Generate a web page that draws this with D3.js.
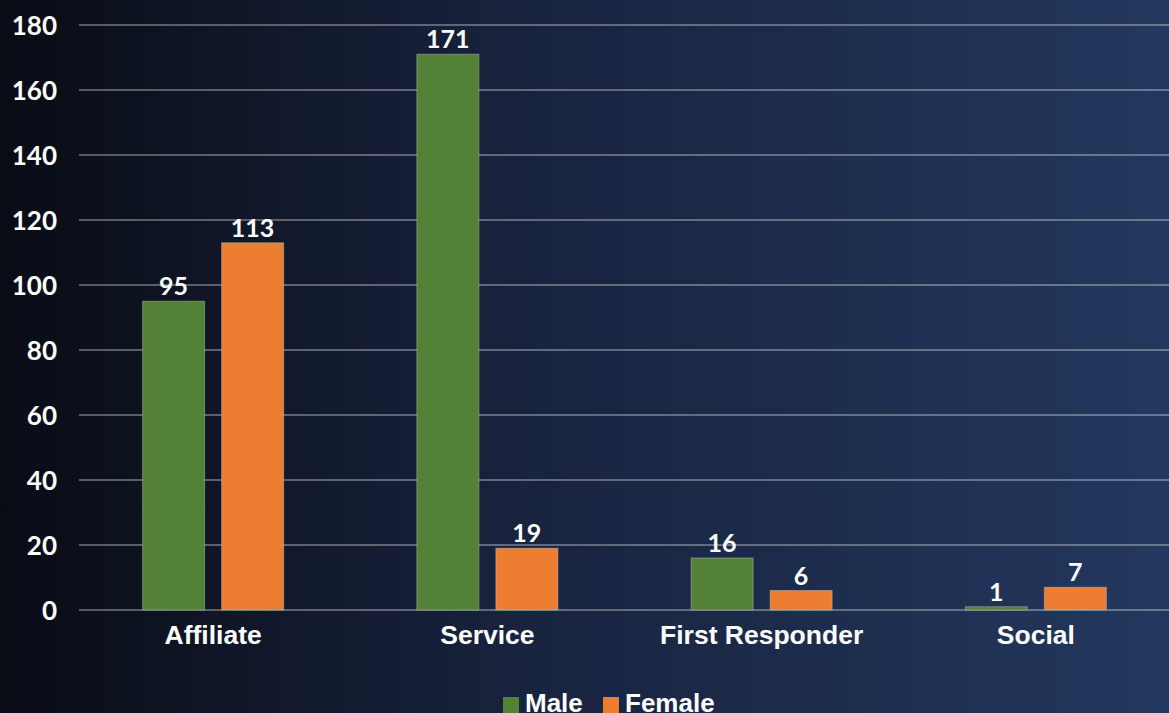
<!DOCTYPE html>
<html>
<head>
<meta charset="utf-8">
<script src="https://cdn.jsdelivr.net/npm/d3@7"></script>
<style>
  html, body { margin: 0; padding: 0; background: #0a0d16; overflow: hidden; }
  svg { display: block; }
</style>
</head>
<body>
<svg id="chart" width="1169" height="713"></svg>
<script>
// data
const categories = ["Affiliate", "Service", "First Responder", "Social"];
const series = ["Male", "Female"];
const maleValues = [95, 171, 16, 1];
const femaleValues = [113, 19, 6, 7];
const yTicks = [0, 20, 40, 60, 80, 100, 120, 140, 160, 180];
const seriesColors = ["#538135", "#ed7d31"];

const width = 1169, height = 713;
const svg = d3.select("#chart");

// background gradient
let defs = svg.append("defs");
let grad = defs.append("linearGradient")
    .attr("id", "bg")
    .attr("x1", "0%").attr("y1", "0%")
    .attr("x2", "100%").attr("y2", "0%");
grad.append("stop").attr("offset", "0%").attr("stop-color", "#090c15");
grad.append("stop").attr("offset", "45%").attr("stop-color", "#18233e");
grad.append("stop").attr("offset", "100%").attr("stop-color", "#23385e");
svg.append("rect")
    .attr("width", width).attr("height", height)
    .attr("fill", "url(#bg)");

let yScale = d3.scaleLinear()
    .domain([0, 180])
    .range([610, 25]);

let xScale = d3.scaleBand()
    .domain(categories)
    .range([76, 1173]);

let xSub = d3.scaleBand()
    .domain(series)
    .range([0, xScale.bandwidth()])
    .paddingInner(0.215)
    .paddingOuter(0.843);

// gridlines
svg.append("g").selectAll("line")
    .data(yTicks)
    .enter().append("line")
    .attr("x1", 79)
    .attr("x2", width)
    .attr("y1", d => yScale(d))
    .attr("y2", d => yScale(d))
    .attr("stroke", "rgba(255,255,255,0.32)")
    .attr("stroke-width", 2);

// y axis labels
let yAxis = d3.axisLeft(yScale)
    .tickValues(yTicks)
    .tickSize(0)
    .tickPadding(0);
let yG = svg.append("g")
    .attr("transform", "translate(57,0)")
    .call(yAxis);
yG.select(".domain").remove();
yG.selectAll("text")
    .attr("fill", "#ffffff")
    .attr("font-family", "Lato, sans-serif")
    .attr("font-weight", "bold")
    .attr("font-size", "26px")
    .attr("dy", "0.36em");

// x axis labels
let xAxis = d3.axisBottom(xScale).tickSize(0).tickPadding(0);
let xG = svg.append("g")
    .attr("transform", "translate(0,610)")
    .call(xAxis);
xG.select(".domain").remove();
xG.selectAll("text")
    .attr("fill", "#ffffff")
    .attr("font-family", "'Liberation Sans', Arial, sans-serif")
    .attr("font-weight", "bold")
    .attr("font-size", "26.5px")
    .attr("y", 0)
    .attr("dy", "34px");

// bars
let rows = categories.map(function (c, i) {
    return { cat: c, values: [maleValues[i], femaleValues[i]] };
});

let groups = svg.append("g").selectAll("g")
    .data(rows)
    .enter().append("g")
    .attr("transform", d => "translate(" + xScale(d.cat) + ",0)");

let barData = d => series.map((s, j) => ({ s: s, v: d.values[j], j: j }));

groups.selectAll("rect")
    .data(barData)
    .enter().append("rect")
    .attr("x", d => xSub(d.s))
    .attr("width", xSub.bandwidth())
    .attr("y", d => yScale(d.v))
    .attr("height", d => yScale(0) - yScale(d.v))
    .attr("fill", d => seriesColors[d.j])
    .attr("stroke", "rgba(200,200,200,0.45)")
    .attr("stroke-width", 1);

groups.selectAll("text")
    .data(barData)
    .enter().append("text")
    .attr("x", d => xSub(d.s) + xSub.bandwidth() / 2)
    .attr("y", d => yScale(d.v) - 6)
    .attr("text-anchor", "middle")
    .attr("fill", "#ffffff")
    .attr("font-family", "Lato, sans-serif")
    .attr("font-weight", "bold")
    .attr("font-size", "25px")
    .text(d => d.v);

// legend
let legendX = [503, 603];
let legend = svg.append("g").selectAll("g")
    .data(series)
    .enter().append("g")
    .attr("transform", (d, i) => "translate(" + legendX[i] + ",0)");
legend.append("rect")
    .attr("x", 0).attr("y", 697)
    .attr("width", 16).attr("height", 16)
    .attr("fill", (d, i) => seriesColors[i]);
legend.append("text")
    .attr("x", 22)
    .attr("y", 712)
    .attr("fill", "#ffffff")
    .attr("font-family", "'Liberation Sans', Arial, sans-serif")
    .attr("font-weight", "bold")
    .attr("font-size", "26px")
    .text(d => d);
</script>
</body>
</html>
